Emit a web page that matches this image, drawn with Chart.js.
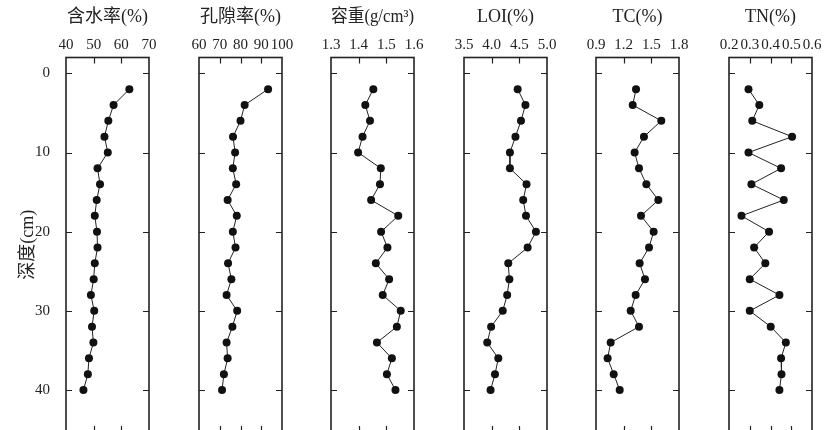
<!DOCTYPE html>
<html>
<head>
<meta charset="utf-8">
<script src="https://cdn.jsdelivr.net/npm/chart.js@4"></script>
<style>
  html, body { margin: 0; padding: 0; background: #fff; overflow: hidden; width: 835px; height: 430px; }
  canvas { position: absolute; top: 0; }
</style>
</head>
<body>
<script>
// depth of each sample (cm)
const depths = [2, 4, 6, 8, 10, 12, 14, 16, 18, 20, 22, 24, 26, 28, 30, 32, 34, 36, 38, 40];

// measured values, top to bottom
const water = [62.9, 57.2, 55.3, 53.9, 55.1, 51.4, 52.3, 51.1, 50.4, 51.2, 51.4, 50.4, 50.0, 49.0, 50.2, 49.4, 49.9, 48.3, 47.9, 46.3];
const porosity = [93.3, 82.0, 80.0, 76.4, 77.4, 76.3, 77.9, 73.8, 78.2, 76.3, 77.6, 74.0, 75.6, 73.3, 78.4, 76.1, 73.3, 73.8, 72.0, 71.1];
const bulk = [1.453, 1.424, 1.441, 1.414, 1.398, 1.480, 1.477, 1.445, 1.543, 1.481, 1.504, 1.462, 1.510, 1.487, 1.552, 1.538, 1.466, 1.520, 1.502, 1.533];
const loi = [4.47, 4.61, 4.53, 4.43, 4.33, 4.33, 4.63, 4.57, 4.62, 4.80, 4.65, 4.30, 4.32, 4.28, 4.20, 3.99, 3.92, 4.12, 4.06, 3.98];
const tc = [1.334, 1.298, 1.608, 1.420, 1.319, 1.366, 1.446, 1.576, 1.388, 1.525, 1.475, 1.373, 1.431, 1.330, 1.276, 1.366, 1.059, 1.026, 1.092, 1.157];
const tn = [0.294, 0.346, 0.312, 0.504, 0.294, 0.451, 0.308, 0.464, 0.260, 0.393, 0.321, 0.375, 0.300, 0.443, 0.300, 0.401, 0.474, 0.451, 0.453, 0.443];

// panel titles and x tick labels
const titles = ['含水率(%)', '孔隙率(%)', '容重(g/cm³)', 'LOI(%)', 'TC(%)', 'TN(%)'];
const xTicks = [
  [40, 50, 60, 70],
  [60, 70, 80, 90, 100],
  [1.3, 1.4, 1.5, 1.6],
  [3.5, 4.0, 4.5, 5.0],
  [0.9, 1.2, 1.5, 1.8],
  [0.2, 0.3, 0.4, 0.5, 0.6]
];
const xDecimals = [0, 0, 1, 1, 1, 1];
const yTicks = [0, 10, 20, 30, 40];
const series = [water, porosity, bulk, loi, tc, tn];

const FONT = "'Liberation Serif', 'Noto Sans CJK SC', serif";
const INK = '#222';

// frame and inward ticks on all four sides
const innerTicks = {
  id: 'innerTicks',
  afterDraw(chart) {
    const { ctx, chartArea: a, scales: { x, y } } = chart;
    ctx.save();
    ctx.strokeStyle = INK;
    ctx.lineWidth = 1.2;
    ctx.beginPath();
    x.ticks.forEach(t => {
      const px = Math.round(x.getPixelForValue(t.value)) + 0.5;
      if (px < a.left + 2 || px > a.right - 2) return;
      ctx.moveTo(px, a.top); ctx.lineTo(px, a.top + 6);
      ctx.moveTo(px, a.bottom); ctx.lineTo(px, a.bottom - 6);
    });
    y.ticks.forEach(t => {
      const py = Math.round(y.getPixelForValue(t.value)) + 0.5;
      ctx.moveTo(a.left, py); ctx.lineTo(a.left + 6, py);
      ctx.moveTo(a.right, py); ctx.lineTo(a.right - 6, py);
    });
    ctx.stroke();
    ctx.lineWidth = 1.6;
    ctx.strokeRect(a.left, a.top, a.right - a.left, a.bottom - a.top);
    ctx.restore();
  }
};

const lefts = [66, 199, 331, 464, 596, 729];
const plotW = 83;
const topH = 57.5;

series.forEach((vals, i) => {
  const yW = i === 0 ? 66 : 20;
  const padR = 16;
  const cv = document.createElement('canvas');
  cv.width = yW + plotW + padR;
  cv.height = 436;
  cv.style.left = (lefts[i] - yW) + 'px';
  document.body.appendChild(cv);

  const ticksX = xTicks[i];
  new Chart(cv.getContext('2d'), {
    type: 'scatter',
    data: {
      datasets: [{
        data: vals.map((v, k) => ({ x: v, y: depths[k] })),
        showLine: true,
        borderColor: INK,
        borderWidth: 1,
        pointRadius: 4,
        pointBackgroundColor: '#111',
        pointBorderColor: '#111',
        pointBorderWidth: 0
      }]
    },
    options: {
      responsive: false,
      maintainAspectRatio: false,
      animation: false,
      devicePixelRatio: 1,
      layout: { padding: { left: 0, right: padR, top: 0, bottom: 0 } },
      plugins: { legend: { display: false }, tooltip: { enabled: false } },
      scales: {
        x: {
          type: 'linear',
          position: 'top',
          min: ticksX[0],
          max: ticksX[ticksX.length - 1],
          afterBuildTicks: s => { s.ticks = ticksX.map(v => ({ value: v })); },
          afterFit: s => { s.height = topH; s.paddingLeft = 0; s.paddingRight = 0; },
          grid: { display: false, drawTicks: false },
          border: { display: false },
          ticks: {
            color: INK,
            padding: 3,
            maxRotation: 0,
            autoSkip: false,
            font: { family: FONT, size: 15 },
            callback: v => Number(v).toFixed(xDecimals[i])
          },
          title: {
            display: true,
            text: titles[i],
            color: INK,
            padding: { top: 6, bottom: 0 },
            font: { family: FONT, size: 18 }
          }
        },
        y: {
          type: 'linear',
          position: 'left',
          reverse: true,
          min: -2,
          max: 45.3,
          afterBuildTicks: s => { s.ticks = yTicks.map(v => ({ value: v })); },
          afterFit: s => { s.width = yW; s.paddingTop = 0; s.paddingBottom = 0; },
          grid: { display: false, drawTicks: false },
          border: { display: false },
          ticks: {
            display: i === 0,
            color: INK,
            padding: 16,
            font: { family: FONT, size: 15 }
          },
          title: {
            display: i === 0,
            text: '深度(cm)',
            color: INK,
            padding: { top: 17, bottom: 0 },
            font: { family: FONT, size: 18 }
          }
        }
      }
    },
    plugins: [innerTicks]
  });
});
</script>
</body>
</html>
